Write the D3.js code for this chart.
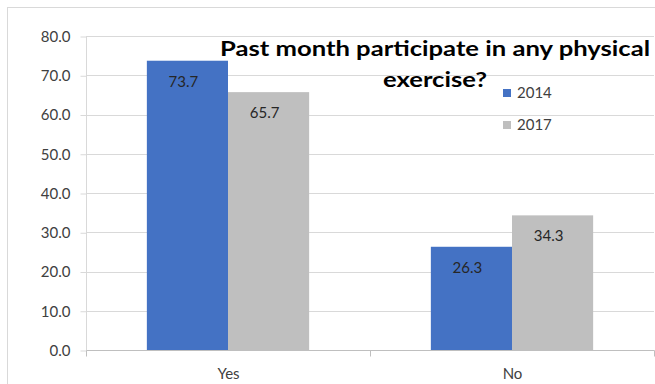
<!DOCTYPE html>
<html>
<head>
<meta charset="utf-8">
<script src="https://cdn.jsdelivr.net/npm/d3@7/dist/d3.min.js"></script>
<style>
  html, body { margin: 0; padding: 0; background: #fff; }
  svg { display: block; }
  text { font-family: Lato, "Open Sans", sans-serif; }
</style>
</head>
<body>
<svg id="chart" width="655" height="384"></svg>
<script>
// Survey answers by year
const categories = ["Yes", "No"];
const seriesNames = ["2014", "2017"];
const values2014 = [73.7, 26.3];
const values2017 = [65.7, 34.3];
const yTicks = [0, 10, 20, 30, 40, 50, 60, 70, 80];
const titleLines = ["Past month participate in any physical", "exercise?"];

const colors = { "2014": "#4472C4", "2017": "#BFBFBF" };
const seriesValues = { "2014": values2014, "2017": values2017 };

const svg = d3.select("#chart");
const W = 655, H = 384;
const plot = { left: 86, right: 654, top: 36, bottom: 350 };
const labelFont = 15;

// Outer chart frame
svg.append("rect")
  .attr("x", 7.5).attr("y", 7.5)
  .attr("width", W + 10).attr("height", H + 10)
  .attr("fill", "#fff").attr("stroke", "#d9d9d9").attr("stroke-width", 1);

const y = d3.scaleLinear().domain([0, 80]).range([plot.bottom, plot.top]);
const x0 = d3.scaleBand().domain(categories).range([plot.left, plot.right]).padding(0);
const x1 = d3.scaleBand().domain(seriesNames).range([0, x0.bandwidth()])
  .paddingInner(0).paddingOuter(0.75);

// Horizontal gridlines
svg.append("g").selectAll("line")
  .data(yTicks.filter(t => t > 0))
  .join("line")
  .attr("x1", plot.left).attr("x2", plot.right)
  .attr("y1", d => Math.round(y(d)) + 0.5).attr("y2", d => Math.round(y(d)) + 0.5)
  .attr("stroke", "#d9d9d9");

// Y axis
const yAxis = svg.append("g")
  .attr("transform", `translate(${plot.left + 0.5},0.5)`)
  .call(d3.axisLeft(y).tickValues(yTicks).tickFormat(d3.format(".1f")).tickSize(6).tickPadding(10));
yAxis.select(".domain").attr("stroke", "#d9d9d9").attr("d", `M0,${plot.top}V${plot.bottom}`);
yAxis.selectAll(".tick line").attr("stroke", "#d9d9d9");
yAxis.selectAll(".tick text")
  .attr("fill", "#404040").attr("font-size", labelFont).attr("font-family", "Lato, sans-serif");

// Bars
const groups = svg.append("g").selectAll("g")
  .data(categories)
  .join("g")
  .attr("transform", c => `translate(${x0(c)},0)`);

groups.selectAll("rect")
  .data((c, i) => seriesNames.map(s => ({ s, v: seriesValues[s][i] })))
  .join("rect")
  .attr("x", d => x1(d.s))
  .attr("width", x1.bandwidth())
  .attr("y", d => y(d.v))
  .attr("height", d => y(0) - y(d.v))
  .attr("fill", d => colors[d.s]);

// Value labels inside the bar tops
groups.selectAll("text")
  .data((c, i) => seriesNames.map(s => ({ s, v: seriesValues[s][i] })))
  .join("text")
  .attr("x", d => x1(d.s) + x1.bandwidth() / 2 - 4)
  .attr("y", d => y(d.v) + 26)
  .attr("text-anchor", "middle")
  .attr("font-size", labelFont)
  .attr("fill", "#262626")
  .text(d => d.v.toFixed(1));

// X axis
const xAxis = svg.append("g")
  .attr("transform", `translate(0.5,${plot.bottom + 0.5})`)
  .call(d3.axisBottom(x0).tickSize(0).tickPadding(18));
xAxis.select(".domain").attr("stroke", "#bfbfbf").attr("d", `M${plot.left},0H${plot.right}`);
xAxis.selectAll(".tick text")
  .attr("fill", "#404040").attr("font-size", labelFont).attr("font-family", "Lato, sans-serif")
  .attr("dy", "0.71em");
// Category boundary ticks
xAxis.append("g").selectAll("line")
  .data([plot.left, x0(categories[1]), plot.right])
  .join("line")
  .attr("x1", d => Math.round(d)).attr("x2", d => Math.round(d))
  .attr("y1", 0).attr("y2", 6)
  .attr("stroke", "#bfbfbf");

// Title
const title = svg.append("g");
title.append("text")
  .attr("x", 435).attr("y", 56)
  .attr("text-anchor", "middle")
  .attr("font-size", 21).attr("font-weight", "bold").attr("fill", "#000")
  .attr("textLength", 430).attr("lengthAdjust", "spacingAndGlyphs")
  .text(titleLines[0]);
title.append("text")
  .attr("x", 435).attr("y", 87)
  .attr("text-anchor", "middle")
  .attr("font-size", 21).attr("font-weight", "bold").attr("fill", "#000")
  .attr("textLength", 104).attr("lengthAdjust", "spacingAndGlyphs")
  .text(titleLines[1]);

// Legend
const legend = svg.append("g").selectAll("g")
  .data(seriesNames)
  .join("g")
  .attr("transform", (d, i) => `translate(503,${89 + i * 32})`);
legend.append("rect")
  .attr("width", 8).attr("height", 8)
  .attr("fill", d => colors[d]);
legend.append("text")
  .attr("x", 14).attr("y", 8.5)
  .attr("font-size", labelFont).attr("fill", "#404040")
  .text(d => d);
</script>
</body>
</html>
